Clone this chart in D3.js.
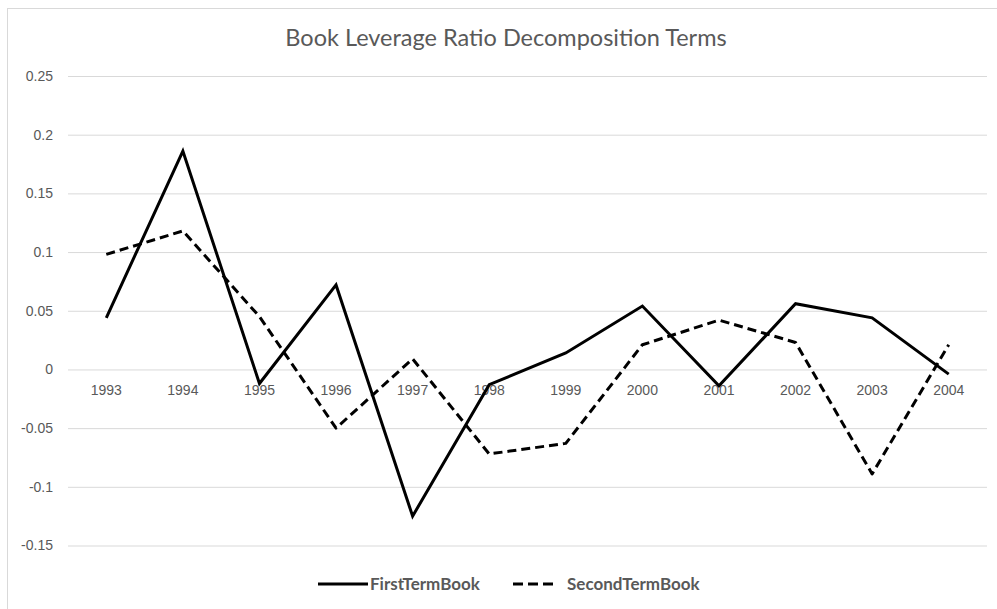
<!DOCTYPE html>
<html>
<head>
<meta charset="utf-8">
<script src="https://cdn.jsdelivr.net/npm/d3@7"></script>
<style>
  html, body { margin: 0; padding: 0; background: #fff; }
  svg { display: block; font-family: Lato, "Open Sans", sans-serif; }
</style>
</head>
<body>
<svg id="chart" width="997" height="609"></svg>
<script>
const years = ["1993","1994","1995","1996","1997","1998","1999","2000","2001","2002","2003","2004"];
const firstTermBook = [0.044, 0.186, -0.012, 0.072, -0.125, -0.013, 0.014, 0.054, -0.014, 0.056, 0.044, -0.004];
const secondTermBook = [0.098, 0.118, 0.045, -0.050, 0.009, -0.072, -0.063, 0.021, 0.042, 0.023, -0.089, 0.021];
const yTicks = [-0.15, -0.1, -0.05, 0, 0.05, 0.1, 0.15, 0.2, 0.25];
const seriesNames = ["FirstTermBook", "SecondTermBook"];
const title = "Book Leverage Ratio Decomposition Terms";

const svg = d3.select("#chart");
const plot = { left: 68, right: 987, top: 76, bottom: 545.5 };

// chart area border
svg.append("rect").attr("x", 7.5).attr("y", 8.5).attr("width", 1000).attr("height", 700)
  .attr("fill", "#fff").attr("stroke", "#d9d9d9").attr("stroke-width", 1);

const x = d3.scaleBand().domain(years).range([plot.left, plot.right]);
const y = d3.scaleLinear().domain([-0.15, 0.25]).range([plot.bottom, plot.top]);

// gridlines + y labels
const yAxis = d3.axisLeft(y).tickValues(yTicks).tickSize(-(plot.right - plot.left)).tickPadding(15)
  .tickFormat(d => d === 0 ? "0" : String(+d.toFixed(2)));
const gy = svg.append("g").attr("transform", `translate(${plot.left},0)`).call(yAxis);
gy.select(".domain").remove();
gy.selectAll(".tick line").attr("stroke", "#d9d9d9").attr("stroke-width", 1);
gy.selectAll(".tick text").attr("fill", "#595959").style("font-size", "14px");

// x axis labels placed at zero line
const xAxis = d3.axisBottom(x).tickSize(0).tickPadding(16);
const gx = svg.append("g").attr("transform", `translate(0,${y(0)})`).call(xAxis);
gx.select(".domain").remove();
gx.selectAll(".tick text").attr("fill", "#595959").style("font-size", "14px");

const line = d3.line().x((d, i) => x(years[i]) + x.bandwidth() / 2).y(d => y(d));

svg.append("path").datum(secondTermBook).attr("d", line)
  .attr("fill", "none").attr("stroke", "#000").attr("stroke-width", 3)
  .attr("stroke-dasharray", "9,5").attr("stroke-linejoin", "round");
svg.append("path").datum(firstTermBook).attr("d", line)
  .attr("fill", "none").attr("stroke", "#000").attr("stroke-width", 3)
  .attr("stroke-linejoin", "miter");

// title
svg.append("text").attr("x", 506).attr("y", 46).attr("text-anchor", "middle")
  .attr("fill", "#595959").style("font-size", "23.5px").text(title);

// legend
const legend = [
  { name: seriesNames[0], x1: 318, x2: 368, dash: null },
  { name: seriesNames[1], x1: 513, x2: 557, dash: "10,5" }
];
legend.forEach(l => {
  svg.append("line").attr("x1", l.x1).attr("x2", l.x2).attr("y1", 584).attr("y2", 584)
    .attr("stroke", "#000").attr("stroke-width", 3)
    .attr("stroke-dasharray", l.dash);
  svg.append("text").attr("x", l.x2 + (l.dash ? 10 : 2)).attr("y", 590)
    .attr("fill", "#595959").style("font-size", "17px").style("font-weight", "bold").text(l.name);
});
</script>
</body>
</html>
